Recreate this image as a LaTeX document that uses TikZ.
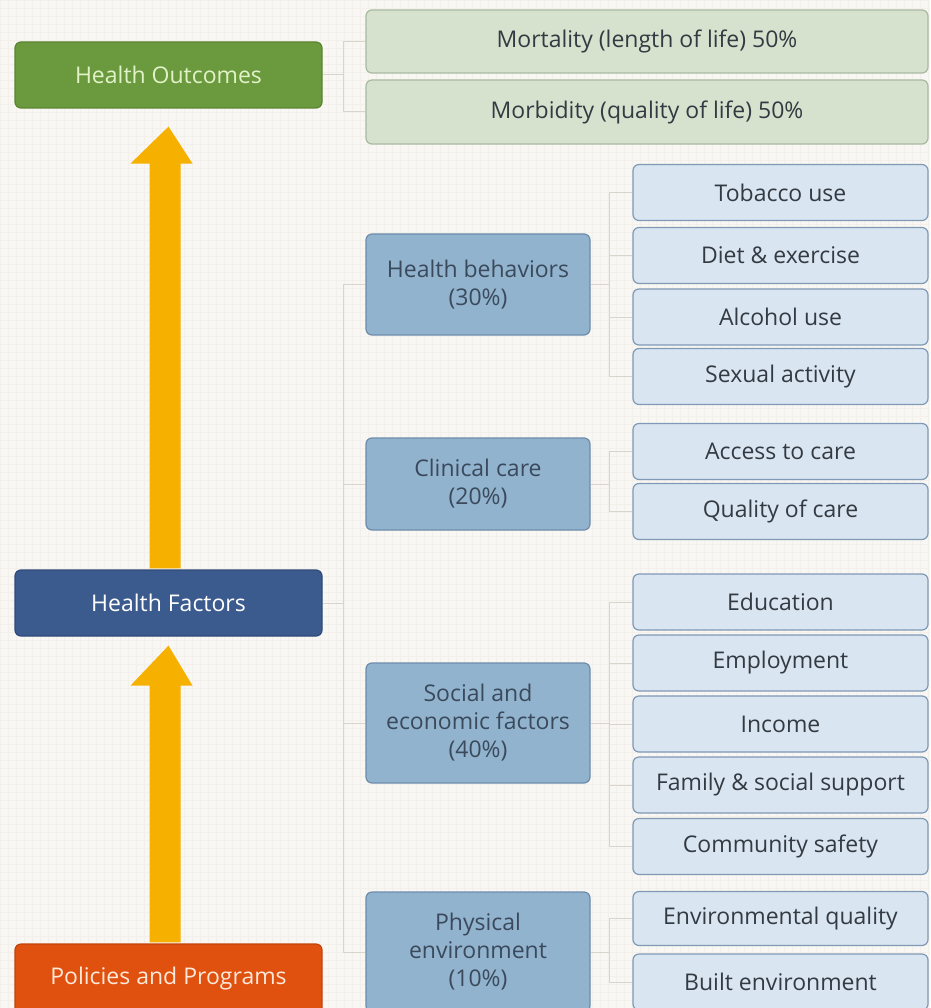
\documentclass[tikz,border=0pt]{standalone}
\usepackage{fontspec}
\setmainfont{Open Sans}
\usetikzlibrary{calc}
\definecolor{bgc}{HTML}{F9F7F3}
\definecolor{gridc}{HTML}{F3F0EB}
\definecolor{conc}{HTML}{D9D5CC}
\definecolor{hoc}{HTML}{6B9A3E}
\definecolor{hobd}{HTML}{5A8431}
\definecolor{hot}{HTML}{E2F2C8}
\definecolor{hfc}{HTML}{3B5B8E}
\definecolor{hfbd}{HTML}{2E4A78}
\definecolor{ppc}{HTML}{E0500F}
\definecolor{ppbd}{HTML}{C2430A}
\definecolor{ppt}{HTML}{FCE9DA}
\definecolor{arc}{HTML}{F6B000}
\definecolor{ogc}{HTML}{D6E2CD}
\definecolor{ogbd}{HTML}{A9B9A0}
\definecolor{midc}{HTML}{92B3CE}
\definecolor{midbd}{HTML}{6D8CAB}
\definecolor{midt}{HTML}{3A4A5C}
\definecolor{leafc}{HTML}{D9E5F1}
\definecolor{leafbd}{HTML}{7F99B6}
\definecolor{leaft}{HTML}{333A42}
\begin{document}
\begin{tikzpicture}[x=1pt,y=-1pt,
  every node/.style={font=\fontsize{23}{28}\selectfont, align=center, inner sep=0pt, rounded corners=6pt, line width=1.2pt},
  topbox/.style={minimum width=307pt, minimum height=66pt},
  outbox/.style={draw=ogbd, fill=ogc, text=leaft, minimum width=562pt, minimum height=63pt},
  midbox/.style={draw=midbd, fill=midc, text=midt, minimum width=224pt},
  leafbox/.style={draw=leafbd, fill=leafc, text=leaft, minimum width=295pt, minimum height=56pt},
  conn/.style={draw=conc, line width=1pt}]
\useasboundingbox (0,0) rectangle (930,1008);
\clip (0,0) rectangle (930,1008);
\fill[bgc] (0,0) rectangle (930,1008);
\draw[gridc, line width=0.4pt, step=8pt] (0,0) grid (930,1008);

% top-level boxes
\node[topbox, draw=hobd, fill=hoc, text=hot] (HO) at (168.5,75) {Health Outcomes};
\node[topbox, draw=hfbd, fill=hfc, text=white] (HF) at (168.5,603) {Health Factors};
\node[topbox, draw=ppbd, fill=ppc, text=ppt, minimum height=70pt] (PP) at (168.5,979) {\raisebox{3pt}{Policies and Programs}};

% outcomes
\node[outbox] (Mort) at (647,41.5) {Mortality (length of life) 50\%};
\node[outbox, minimum height=64pt] (Morb) at (647,112) {Morbidity (quality of life) 50\%};

% middle boxes
\node[midbox, minimum height=101pt] (HB) at (478,284.5) {Health behaviors\\(30\%)};
\node[midbox, minimum height=92pt] (CC) at (478,484) {Clinical care\\(20\%)};
\node[midbox, minimum height=120pt] (SE) at (478,723) {Social and\\economic factors\\(40\%)};
\node[midbox, minimum height=120pt] (PE) at (478,952) {Physical\\environment\\(10\%)};

% leaves
\node[leafbox] (L1) at (780.5,192.5) {Tobacco use};
\node[leafbox] (L2) at (780.5,255.5) {Diet \& exercise};
\node[leafbox] (L3) at (780.5,317) {Alcohol use};
\node[leafbox] (L4) at (780.5,376.5) {Sexual activity};
\node[leafbox] (L5) at (780.5,451.5) {Access to care};
\node[leafbox] (L6) at (780.5,511.5) {Quality of care};
\node[leafbox] (L7) at (780.5,602) {Education};
\node[leafbox] (L8) at (780.5,663) {Employment};
\node[leafbox] (L9) at (780.5,724) {Income};
\node[leafbox] (L10) at (780.5,785) {Family \& social support};
\node[leafbox] (L11) at (780.5,846.5) {Community safety};
\node[leafbox, minimum height=54pt] (L12) at (780.5,918.5) {Environmental quality};
\node[leafbox] (L13) at (780.5,982) {Built environment};

% connectors: outcomes
\coordinate (jo) at (343,75);
\draw[conn] (HO.east) -- (jo);
\draw[conn] (jo) |- (Mort.west);
\draw[conn] (jo) |- (Morb.west);

% connectors: factors
\coordinate (jf) at (343,603);
\draw[conn] (HF.east) -- (jf);
\draw[conn] (jf) |- (HB.west);
\draw[conn] (jf) |- (CC.west);
\draw[conn] (jf) |- (SE.west);
\draw[conn] (jf) |- (PE.west);

% connectors: sub-factors
\coordinate (jb) at (609,284.5);
\draw[conn] (HB.east) -- (jb);
\foreach \n in {L1,L2,L3,L4} \draw[conn] (jb) |- (\n.west);
\coordinate (jc) at (609,484);
\draw[conn] (CC.east) -- (jc);
\foreach \n in {L5,L6} \draw[conn] (jc) |- (\n.west);
\coordinate (js) at (609,723);
\draw[conn] (SE.east) -- (js);
\foreach \n in {L7,L8,L9,L10,L11} \draw[conn] (js) |- (\n.west);
\coordinate (jp) at (609,952);
\draw[conn] (PE.east) -- (jp);
\foreach \n in {L12,L13} \draw[conn] (jp) |- (\n.west);

% big arrows
\fill[arc] ($(HF.north)+(-19,-1)$) -- ($(HO.south)+(-19,55)$) -- ($(HO.south)+(-38,55)$)
  -- ($(HO.south)+(0,18)$) -- ($(HO.south)+(24,55)$) -- ($(HO.south)+(12,55)$)
  -- ($(HF.north)+(12,-1)$) -- cycle;
\fill[arc] ($(PP.north)+(-19,-1)$) -- ($(HF.south)+(-19,49)$) -- ($(HF.south)+(-38,49)$)
  -- ($(HF.south)+(0,9)$) -- ($(HF.south)+(24,49)$) -- ($(HF.south)+(12,49)$)
  -- ($(PP.north)+(12,-1)$) -- cycle;
\end{tikzpicture}
\end{document}
